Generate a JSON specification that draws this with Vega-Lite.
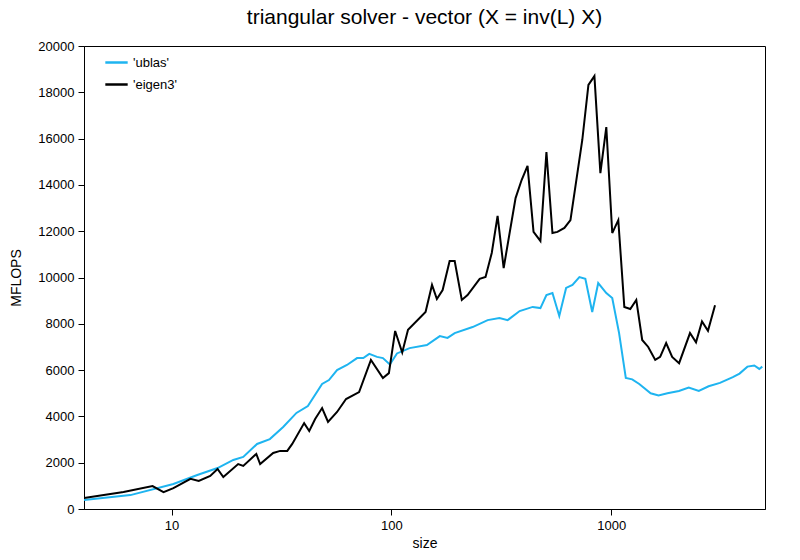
{
  "$schema": "https://vega.github.io/schema/vega-lite/v6.json",
  "autosize": {"type": "none"},
  "padding": {"left": 84, "top": 46, "right": 35, "bottom": 51},
  "width": 681,
  "height": 463,
  "title": {"text": "triangular solver - vector (X = inv(L) X)", "fontSize": 21, "fontWeight": "normal", "font": "Liberation Sans", "offset": 12},
  "data": {
    "values": [
      {"lib": "'ublas'", "size": 4, "mflops": 390},
      {"lib": "'ublas'", "size": 6.5, "mflops": 600},
      {"lib": "'ublas'", "size": 10.2, "mflops": 1080},
      {"lib": "'ublas'", "size": 13.1, "mflops": 1470},
      {"lib": "'ublas'", "size": 16.2, "mflops": 1770},
      {"lib": "'ublas'", "size": 19.1, "mflops": 2120},
      {"lib": "'ublas'", "size": 21.2, "mflops": 2250},
      {"lib": "'ublas'", "size": 24.5, "mflops": 2810},
      {"lib": "'ublas'", "size": 28, "mflops": 3020},
      {"lib": "'ublas'", "size": 32.2, "mflops": 3540},
      {"lib": "'ublas'", "size": 37, "mflops": 4150},
      {"lib": "'ublas'", "size": 41.7, "mflops": 4450},
      {"lib": "'ublas'", "size": 48.4, "mflops": 5400},
      {"lib": "'ublas'", "size": 52, "mflops": 5570},
      {"lib": "'ublas'", "size": 56.6, "mflops": 6000},
      {"lib": "'ublas'", "size": 62.8, "mflops": 6220},
      {"lib": "'ublas'", "size": 69.8, "mflops": 6520},
      {"lib": "'ublas'", "size": 74.5, "mflops": 6520},
      {"lib": "'ublas'", "size": 79.3, "mflops": 6700},
      {"lib": "'ublas'", "size": 86, "mflops": 6570},
      {"lib": "'ublas'", "size": 91.5, "mflops": 6520},
      {"lib": "'ublas'", "size": 98.4, "mflops": 6240},
      {"lib": "'ublas'", "size": 106, "mflops": 6720},
      {"lib": "'ublas'", "size": 121, "mflops": 6950},
      {"lib": "'ublas'", "size": 145, "mflops": 7080},
      {"lib": "'ublas'", "size": 166, "mflops": 7470},
      {"lib": "'ublas'", "size": 180, "mflops": 7390},
      {"lib": "'ublas'", "size": 194, "mflops": 7600},
      {"lib": "'ublas'", "size": 234, "mflops": 7860},
      {"lib": "'ublas'", "size": 274, "mflops": 8160},
      {"lib": "'ublas'", "size": 310, "mflops": 8250},
      {"lib": "'ublas'", "size": 338, "mflops": 8160},
      {"lib": "'ublas'", "size": 383, "mflops": 8550},
      {"lib": "'ublas'", "size": 439, "mflops": 8730},
      {"lib": "'ublas'", "size": 476, "mflops": 8680},
      {"lib": "'ublas'", "size": 507, "mflops": 9240},
      {"lib": "'ublas'", "size": 540, "mflops": 9330},
      {"lib": "'ublas'", "size": 580, "mflops": 8340},
      {"lib": "'ublas'", "size": 623, "mflops": 9550},
      {"lib": "'ublas'", "size": 666, "mflops": 9680},
      {"lib": "'ublas'", "size": 716, "mflops": 10020},
      {"lib": "'ublas'", "size": 762, "mflops": 9940},
      {"lib": "'ublas'", "size": 819, "mflops": 8510},
      {"lib": "'ublas'", "size": 872, "mflops": 9760},
      {"lib": "'ublas'", "size": 949, "mflops": 9330},
      {"lib": "'ublas'", "size": 1010, "mflops": 9110},
      {"lib": "'ublas'", "size": 1085, "mflops": 7600},
      {"lib": "'ublas'", "size": 1164, "mflops": 5660},
      {"lib": "'ublas'", "size": 1245, "mflops": 5600},
      {"lib": "'ublas'", "size": 1340, "mflops": 5400},
      {"lib": "'ublas'", "size": 1510, "mflops": 5000},
      {"lib": "'ublas'", "size": 1640, "mflops": 4900},
      {"lib": "'ublas'", "size": 1800, "mflops": 5000},
      {"lib": "'ublas'", "size": 2030, "mflops": 5100},
      {"lib": "'ublas'", "size": 2250, "mflops": 5250},
      {"lib": "'ublas'", "size": 2500, "mflops": 5100},
      {"lib": "'ublas'", "size": 2770, "mflops": 5300},
      {"lib": "'ublas'", "size": 3120, "mflops": 5450},
      {"lib": "'ublas'", "size": 3570, "mflops": 5700},
      {"lib": "'ublas'", "size": 3830, "mflops": 5850},
      {"lib": "'ublas'", "size": 4160, "mflops": 6150},
      {"lib": "'ublas'", "size": 4470, "mflops": 6200},
      {"lib": "'ublas'", "size": 4710, "mflops": 6050},
      {"lib": "'ublas'", "size": 4860, "mflops": 6150},
      {"lib": "'eigen3'", "size": 4, "mflops": 475},
      {"lib": "'eigen3'", "size": 6.05, "mflops": 730},
      {"lib": "'eigen3'", "size": 8.2, "mflops": 990},
      {"lib": "'eigen3'", "size": 9.2, "mflops": 730},
      {"lib": "'eigen3'", "size": 10.2, "mflops": 900},
      {"lib": "'eigen3'", "size": 12.2, "mflops": 1300},
      {"lib": "'eigen3'", "size": 13.3, "mflops": 1210},
      {"lib": "'eigen3'", "size": 15, "mflops": 1430},
      {"lib": "'eigen3'", "size": 16.2, "mflops": 1730},
      {"lib": "'eigen3'", "size": 17.2, "mflops": 1380},
      {"lib": "'eigen3'", "size": 20.1, "mflops": 1940},
      {"lib": "'eigen3'", "size": 21.2, "mflops": 1860},
      {"lib": "'eigen3'", "size": 24.3, "mflops": 2380},
      {"lib": "'eigen3'", "size": 25.3, "mflops": 1940},
      {"lib": "'eigen3'", "size": 29, "mflops": 2420},
      {"lib": "'eigen3'", "size": 31.2, "mflops": 2510},
      {"lib": "'eigen3'", "size": 33.6, "mflops": 2510},
      {"lib": "'eigen3'", "size": 35.4, "mflops": 2810},
      {"lib": "'eigen3'", "size": 40.1, "mflops": 3710},
      {"lib": "'eigen3'", "size": 42.3, "mflops": 3370},
      {"lib": "'eigen3'", "size": 45, "mflops": 3890},
      {"lib": "'eigen3'", "size": 48.4, "mflops": 4360},
      {"lib": "'eigen3'", "size": 51.5, "mflops": 3760},
      {"lib": "'eigen3'", "size": 56.6, "mflops": 4190},
      {"lib": "'eigen3'", "size": 62.2, "mflops": 4750},
      {"lib": "'eigen3'", "size": 71.3, "mflops": 5050},
      {"lib": "'eigen3'", "size": 80.7, "mflops": 6440},
      {"lib": "'eigen3'", "size": 91.5, "mflops": 5660},
      {"lib": "'eigen3'", "size": 97.4, "mflops": 5870},
      {"lib": "'eigen3'", "size": 104, "mflops": 7690},
      {"lib": "'eigen3'", "size": 112, "mflops": 6760},
      {"lib": "'eigen3'", "size": 119, "mflops": 7740},
      {"lib": "'eigen3'", "size": 143, "mflops": 8510},
      {"lib": "'eigen3'", "size": 153, "mflops": 9680},
      {"lib": "'eigen3'", "size": 161, "mflops": 9070},
      {"lib": "'eigen3'", "size": 171, "mflops": 9460},
      {"lib": "'eigen3'", "size": 184, "mflops": 10710},
      {"lib": "'eigen3'", "size": 194, "mflops": 10710},
      {"lib": "'eigen3'", "size": 209, "mflops": 9030},
      {"lib": "'eigen3'", "size": 222, "mflops": 9240},
      {"lib": "'eigen3'", "size": 252, "mflops": 9940},
      {"lib": "'eigen3'", "size": 268, "mflops": 10020},
      {"lib": "'eigen3'", "size": 286, "mflops": 11060},
      {"lib": "'eigen3'", "size": 304, "mflops": 12660},
      {"lib": "'eigen3'", "size": 324, "mflops": 10410},
      {"lib": "'eigen3'", "size": 367, "mflops": 13430},
      {"lib": "'eigen3'", "size": 391, "mflops": 14210},
      {"lib": "'eigen3'", "size": 416, "mflops": 14820},
      {"lib": "'eigen3'", "size": 443, "mflops": 11970},
      {"lib": "'eigen3'", "size": 476, "mflops": 11580},
      {"lib": "'eigen3'", "size": 507, "mflops": 15420},
      {"lib": "'eigen3'", "size": 540, "mflops": 11920},
      {"lib": "'eigen3'", "size": 569, "mflops": 11970},
      {"lib": "'eigen3'", "size": 612, "mflops": 12140},
      {"lib": "'eigen3'", "size": 652, "mflops": 12480},
      {"lib": "'eigen3'", "size": 738, "mflops": 15940},
      {"lib": "'eigen3'", "size": 787, "mflops": 18320},
      {"lib": "'eigen3'", "size": 838, "mflops": 18700},
      {"lib": "'eigen3'", "size": 892, "mflops": 14510},
      {"lib": "'eigen3'", "size": 949, "mflops": 16500},
      {"lib": "'eigen3'", "size": 1010, "mflops": 11920},
      {"lib": "'eigen3'", "size": 1076, "mflops": 12480},
      {"lib": "'eigen3'", "size": 1146, "mflops": 8730},
      {"lib": "'eigen3'", "size": 1220, "mflops": 8640},
      {"lib": "'eigen3'", "size": 1299, "mflops": 9030},
      {"lib": "'eigen3'", "size": 1382, "mflops": 7300},
      {"lib": "'eigen3'", "size": 1472, "mflops": 7000},
      {"lib": "'eigen3'", "size": 1584, "mflops": 6440},
      {"lib": "'eigen3'", "size": 1668, "mflops": 6570},
      {"lib": "'eigen3'", "size": 1776, "mflops": 7170},
      {"lib": "'eigen3'", "size": 1891, "mflops": 6570},
      {"lib": "'eigen3'", "size": 2034, "mflops": 6300},
      {"lib": "'eigen3'", "size": 2280, "mflops": 7600},
      {"lib": "'eigen3'", "size": 2428, "mflops": 7200},
      {"lib": "'eigen3'", "size": 2585, "mflops": 8100},
      {"lib": "'eigen3'", "size": 2752, "mflops": 7700},
      {"lib": "'eigen3'", "size": 2963, "mflops": 8800}
    ]
  },
  "mark": {"type": "line", "strokeWidth": 2, "clip": true},
  "encoding": {
    "x": {
      "field": "size", "type": "quantitative", "title": "size",
      "scale": {"type": "log", "domain": [4, 5000], "nice": false},
      "axis": {"values": [10, 100, 1000], "format": "d", "grid": false, "tickSize": 6, "labelPadding": 4, "domainColor": "black", "tickColor": "black"}
    },
    "y": {
      "field": "mflops", "type": "quantitative", "title": "MFLOPS",
      "scale": {"domain": [0, 20000], "nice": false},
      "axis": {"values": [0, 2000, 4000, 6000, 8000, 10000, 12000, 14000, 16000, 18000, 20000], "format": "d", "grid": false, "tickSize": 6, "labelPadding": 4, "domainColor": "black", "tickColor": "black", "titlePadding": 14}
    },
    "color": {
      "field": "lib", "type": "nominal", "sort": ["'ublas'", "'eigen3'"],
      "scale": {"domain": ["'ublas'", "'eigen3'"], "range": ["#1eb4f0", "#000000"]},
      "legend": {"title": null, "orient": "none", "legendX": 20, "legendY": 4, "symbolType": "stroke", "symbolSize": 500, "symbolStrokeWidth": 2.5, "labelFontSize": 13, "rowPadding": 2}
    },
    "strokeWidth": {"condition": {"test": "datum.lib === \"'eigen3'\"", "value": 2.6}, "value": 2}
  },
  "config": {
    "font": "Liberation Sans",
    "view": {"stroke": "black", "strokeWidth": 1},
    "axis": {"labelFontSize": 13, "titleFontSize": 14, "titleFontWeight": "normal", "labelColor": "black", "titleColor": "black"}
  }
}
